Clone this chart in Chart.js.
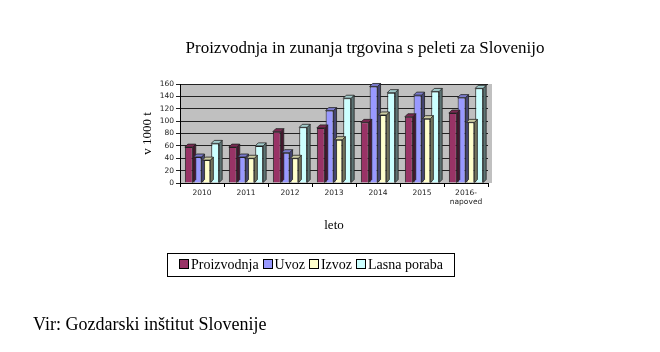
<!DOCTYPE html>
<html>
<head>
<meta charset="utf-8">
<script src="https://cdn.jsdelivr.net/npm/chart.js@4/dist/chart.umd.min.js"></script>
<style>
body{margin:0;background:#fff;font-family:"Liberation Serif","Times New Roman",serif}
#wrap{position:relative;width:660px;height:352px}
#c{position:absolute;left:0;top:0}
#title{position:absolute;left:0;width:660px;top:38px;padding-left:70px;box-sizing:border-box;text-align:center;font-size:17px;color:#000}
#legend{position:absolute;left:167px;top:253px;width:288px;height:24px;border:1px solid #000;box-sizing:border-box;font-size:14px;display:flex;align-items:center;justify-content:center;gap:4px;white-space:nowrap}
#legend span.box{display:inline-block;width:8px;height:8px;border:1px solid #000;margin-right:2px;vertical-align:0px}
#src{position:absolute;left:33px;top:314px;font-size:18px}
</style>
</head>
<body>
<div id="wrap">
<canvas id="c" width="660" height="352"></canvas>
<div id="title">Proizvodnja in zunanja trgovina s peleti za Slovenijo</div>
<div id="legend"></div>
<div id="src">Vir: Gozdarski inštitut Slovenije</div>
</div>
<script>
const years = ['2010','2011','2012','2013','2014','2015',['2016-','napoved']];
const proizvodnja = [58, 58, 83, 89, 98, 107, 113];
const uvoz        = [42, 42, 49, 117, 156, 142, 138];
const izvoz       = [37, 40, 40, 70, 110, 104, 98];
const lasnaPoraba = [64, 60, 90, 137, 146, 148, 153];
const names  = ['Proizvodnja','Uvoz','Izvoz','Lasna poraba'];
const colors = ['#993366','#9999FF','#FFFFCC','#CCFFFF'];
const series = [proizvodnja, uvoz, izvoz, lasnaPoraba];

// html legend
const lg = document.getElementById('legend');
names.forEach((n,i)=>{
  const s=document.createElement('span');
  s.innerHTML=`<span class="box" style="background:${colors[i]}"></span>${n}`;
  lg.appendChild(s);
});

function shade(hex,f){
  const n=parseInt(hex.slice(1),16);
  let r=(n>>16)&255,g=(n>>8)&255,b=n&255;
  r=Math.round(r*f);g=Math.round(g*f);b=Math.round(b*f);
  return `rgb(${r},${g},${b})`;
}

const plotBg = {
  id:'plotBg',
  beforeDraw(ch){
    const a=ch.chartArea, c=ch.ctx;
    c.save();c.fillStyle='#C0C0C0';c.fillRect(a.left,a.top,a.right-a.left+4,a.bottom-a.top);c.restore();
  }
};

// fake 3d top and side faces from bar elements
const bar3d = {
  id:'bar3d',
  afterDatasetsDraw(ch){
    const c=ch.ctx, d=3;
    ch.data.datasets.forEach((ds,i)=>{
      ch.getDatasetMeta(i).data.forEach(el=>{
        const w=el.width, x0=el.x-w/2, x1=el.x+w/2, y=el.y, yb=el.base;
        c.save();
        c.strokeStyle='#222';c.lineWidth=0.8;
        c.fillStyle=shade(colors[i],0.45);
        c.beginPath();c.moveTo(x1,y);c.lineTo(x1+d,y-d);c.lineTo(x1+d,yb-d);c.lineTo(x1,yb);c.closePath();c.fill();c.stroke();
        c.fillStyle=shade(colors[i],0.8);
        c.beginPath();c.moveTo(x0,y);c.lineTo(x0+d,y-d);c.lineTo(x1+d,y-d);c.lineTo(x1,y);c.closePath();c.fill();c.stroke();
        c.restore();
      });
    });
  }
};

new Chart(document.getElementById('c'),{
  type:'bar',
  data:{
    labels:years,
    datasets:series.map((s,i)=>({label:names[i],data:s,backgroundColor:colors[i],borderColor:'#222',borderWidth:1,
      categoryPercentage:0.8,barPercentage:0.9}))
  },
  options:{
    responsive:false,animation:false,
    layout:{padding:{left:140,right:172,top:84,bottom:119}},
    plugins:{legend:{display:false},tooltip:{enabled:false}},
    scales:{
      x:{
        afterFit(s){s.height=50},
        grid:{drawOnChartArea:false,color:'#000',tickLength:4},
        border:{color:'#000'},
        ticks:{color:'#222',font:{family:'DejaVu Sans',size:7.5},maxRotation:0,padding:2},
        title:{display:true,text:'leto',color:'#000',font:{family:'Liberation Serif',size:13},padding:0}
      },
      y:{
        min:0,max:160,
        afterFit(s){s.width=40},
        ticks:{stepSize:20,color:'#222',font:{family:'DejaVu Sans',size:7.5},padding:2},
        grid:{color:'#222',tickLength:4},
        border:{color:'#000'},
        title:{display:true,text:'v 1000 t',color:'#000',font:{family:'Liberation Serif',size:13},padding:0}
      }
    }
  },
  plugins:[plotBg,bar3d]
});
</script>
</body>
</html>
